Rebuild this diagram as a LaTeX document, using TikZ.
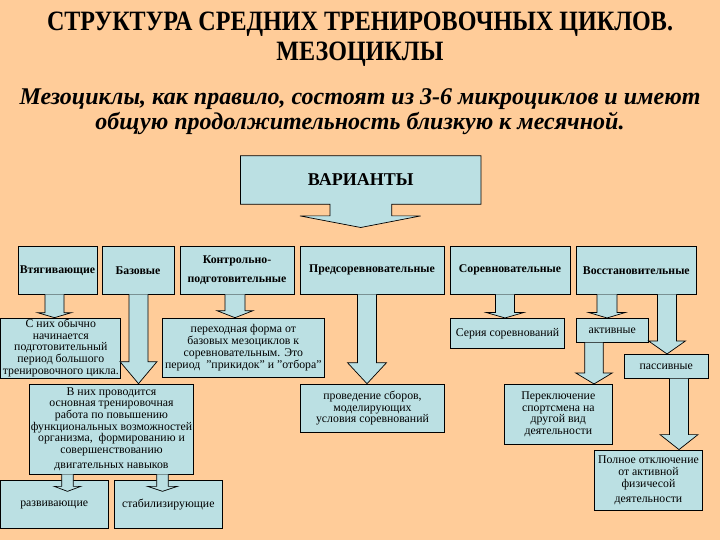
\documentclass[tikz,border=0pt]{standalone}
\usepackage{fontspec}
\setmainfont{Liberation Serif}
\newfontfamily\titlefont[FakeStretch=0.86]{Liberation Serif}
\usetikzlibrary{calc}

\definecolor{peach}{HTML}{FFCC99}
\definecolor{boxblue}{HTML}{BBE0E3}

% block arrow: x, from, to, stem half width, head half width, head length
\newcommand{\blkarrow}[6]{%
  \draw[blkar] let \p1=(#2), \p2=(#3) in
    (#1pt-#4pt,\y1) -- (#1pt-#4pt,\y2+#6pt) -- (#1pt-#5pt,\y2+#6pt) -- (#1pt,\y2)
    -- (#1pt+#5pt,\y2+#6pt) -- (#1pt+#4pt,\y2+#6pt) -- (#1pt+#4pt,\y1);}

\begin{document}
\begin{tikzpicture}[x=1pt,y=-1pt,
   bx/.style={draw,fill=boxblue,line width=0.7pt,inner sep=1pt,align=center},
   hd/.style={bx,minimum height=47.3pt,font=\fontsize{11.8}{19}\selectfont\bfseries},
   lo/.style={bx,font=\fontsize{11.8}{11.7}\selectfont},
   blkar/.style={draw,fill=boxblue,line width=0.7pt}]
  \fill[peach] (0,0) rectangle (720,540);
  \useasboundingbox (0,0) rectangle (720,540);

  \node[font=\titlefont\fontsize{28}{30}\selectfont\bfseries,align=center] (ttl) at (360,39)
    {СТРУКТУРА СРЕДНИХ ТРЕНИРОВОЧНЫХ ЦИКЛОВ.\\МЕЗОЦИКЛЫ};
  \node[font=\fontsize{24}{25}\selectfont\bfseries\itshape,align=center] (sub) at (360,112)
    {Мезоциклы, как правило, состоят из 3-6 микроциклов и имеют\\общую продолжительность близкую к месячной.};

  % callout
  \node[minimum width=240pt,minimum height=48pt] (var) at (360.7,180) {};
  \draw[blkar] (var.south west) -- (var.north west) -- (var.north east) -- (var.south east)
    -- ($(var.south)+(31,0)$) -- ($(var.south)+(31,11.7)$) -- ($(var.south)+(60,11.7)$)
    -- ($(var.south)+(0,23.3)$) -- ($(var.south)+(-60.7,11.7)$) -- ($(var.south)+(-30.7,11.7)$)
    -- ($(var.south)+(-30.7,0)$) -- cycle;
  \node[font=\fontsize{18}{20}\selectfont\bfseries] (vartxt) at (var) {ВАРИАНТЫ};

  % variants
  \node[hd,minimum width=79pt] (vt) at (57.5,270.3) {Втягивающие};
  \node[hd,minimum width=72pt] (baz) at (138,270.3) {Базовые};
  \node[hd,minimum width=114pt] (kontr) at (237,270.3) {Контрольно-\\подготовительные};
  \node[hd,minimum width=144pt] (predsor) at (372,270.3) {Предсоревновательные};
  \node[hd,minimum width=120pt] (sorev) at (510,270.3) {Соревновательные};
  \node[hd,minimum width=120.7pt] (vosst) at (636.3,270.3) {Восстановительные};

  \node[lo,minimum width=120pt,minimum height=60pt] (obych) at (60.8,348)
    {С них обычно\\начинается\\подготовительный\\период большого\\тренировочного цикла.};
  \node[lo,minimum width=162pt,minimum height=59.3pt] (perekh) at (243.3,347.7)
    {переходная форма от\\базовых мезоциклов к\\соревновательным. Это\\период~ "прикидок" и "отбора"};
  \node[lo,minimum width=113.6pt,minimum height=30pt] (seria) at (507.5,333.3) {Серия соревнований};
  \node[lo,minimum width=72.3pt,minimum height=24pt] (aktiv) at (612.2,330.3) {активные};
  \node[lo,minimum width=84.3pt,minimum height=24pt] (passiv) at (666.2,366.3) {пассивные};
  \node[lo,minimum width=161.6pt,minimum height=90pt] (vnih) at (111.5,429)
    {В них проводится\\основная тренировочная\\работа по повышению\\функциональных возможностей\\организма,~ формированию и\\совершенствованию\\[3pt]двигательных навыков};
  \node[lo,minimum width=143.6pt,minimum height=48.3pt] (proved) at (372.5,408.2)
    {проведение сборов,\\моделирующих\\условия соревнований};
  \node[lo,minimum width=108.7pt,minimum height=60pt] (perekl) at (558.3,414.3)
    {Переключение\\спортсмена на\\другой вид\\деятельности};
  \node[lo,minimum width=108.4pt,minimum height=60.7pt] (polnoe) at (648.5,480.3)
    {Полное отключение\\от активной\\физичесой\\[3pt]деятельности};
  \node[lo,minimum width=108.3pt,minimum height=47.6pt] (razv) at (54.2,504.5) {развивающие};
  \node[lo,minimum width=108pt,minimum height=47.6pt] (stab) at (168.3,504.5) {стабилизирующие};

  % arrows
  \blkarrow{54.5}{vt.south}{obych.north}{9.5}{17}{5}
  \blkarrow{138.5}{baz.south}{vnih.north}{9.5}{18.5}{22}
  \blkarrow{235}{kontr.south}{perekh.north}{10}{18}{7}
  \blkarrow{367}{predsor.south}{proved.north}{9.5}{19.5}{21}
  \blkarrow{505}{sorev.south}{seria.north}{9.5}{19}{5.5}
  \blkarrow{607}{vosst.south}{aktiv.north}{10}{18.5}{5.5}
  \blkarrow{667}{vosst.south}{passiv.north}{9.5}{18.5}{13}
  \blkarrow{594}{aktiv.south}{perekl.north}{9.2}{18.3}{11}
  \blkarrow{679}{passiv.south}{polnoe.north}{9.5}{19}{15}
  \blkarrow{67.5}{vnih.south}{[yshift=-11pt]razv.north}{5.8}{13.3}{5}
  \blkarrow{162.5}{vnih.south}{[yshift=-11pt]stab.north}{5.8}{15}{5}
\end{tikzpicture}
\end{document}
